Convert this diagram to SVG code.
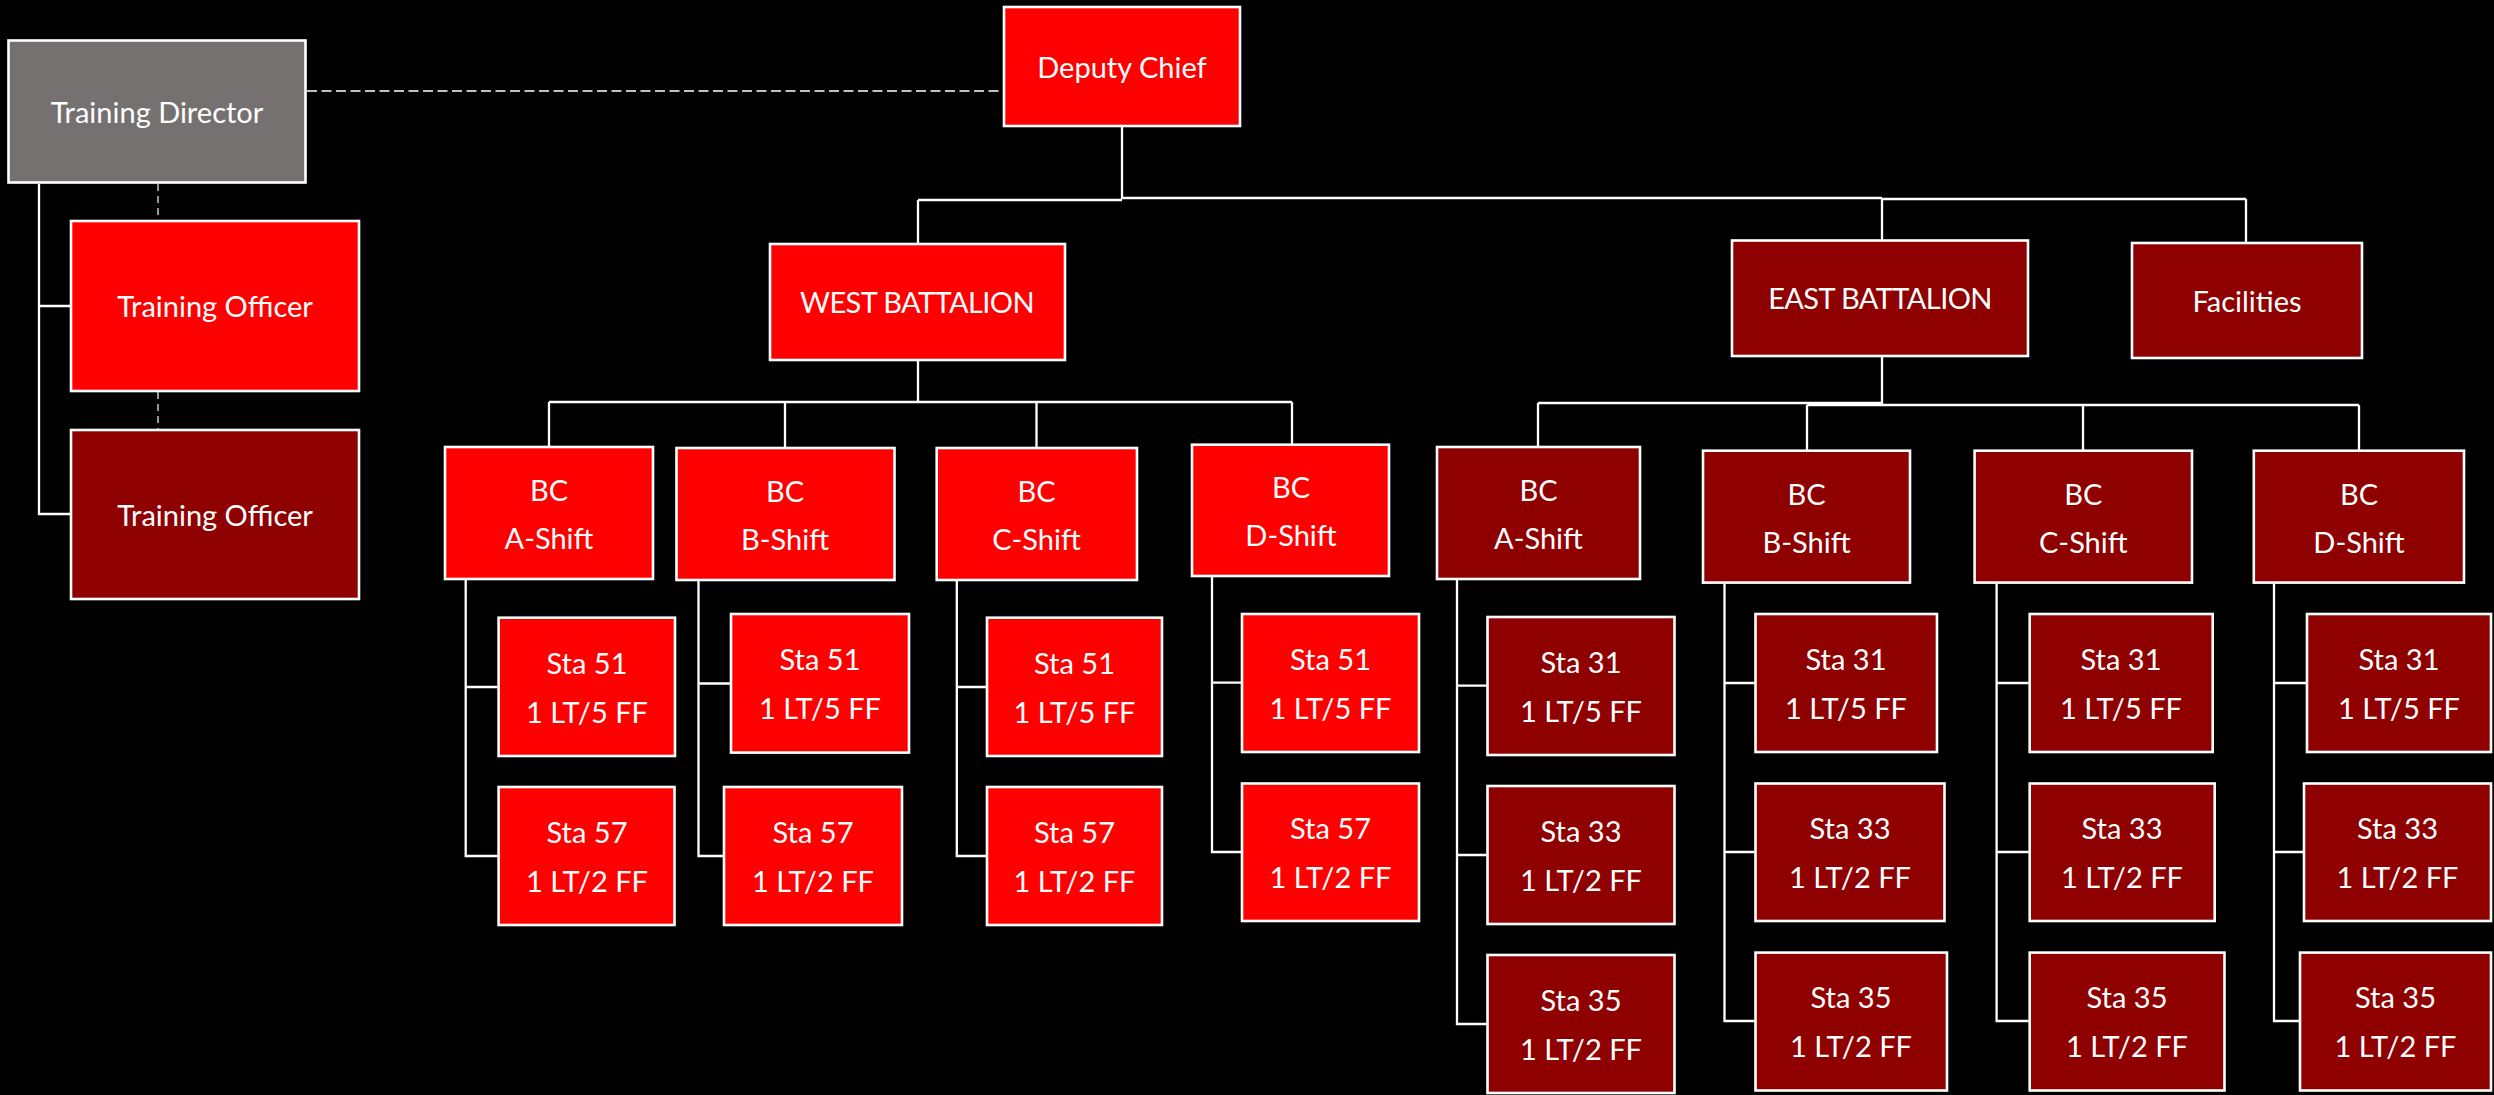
<svg xmlns="http://www.w3.org/2000/svg" width="2494" height="1095" viewBox="0 0 2494 1095">
<style>
.n rect{stroke:#fff;stroke-width:2.6}
.red rect{fill:#ff0000}
.dk rect{fill:#8f0000}
.gy rect{fill:#767171}
text{font-family:Lato,"Liberation Sans",sans-serif;font-size:29px;fill:#fff;text-anchor:middle;dominant-baseline:central}
.cap{letter-spacing:-0.6px}
.c path{fill:none;stroke:#fff;stroke-width:2.3}
.c .d{stroke-dasharray:10 4.5;stroke-width:1.5}
.c .d2{stroke:#c8c8c8;stroke-dasharray:7 5;stroke-width:1.5}
</style>
<rect x="0" y="0" width="2494" height="1095" fill="#000"/>
<g class="c" id="connectors">
<path class="d" d="M307,91 H1003"/>
<path class="d2" d="M158,184 V220 M158,392 V429"/>
<path d="M39,184 V514 H70 M39,306 H70"/>
<path d="M1122,127 V199 M918,200 H1122 M1122,198 H1882 M1882,199 H2246 M918,200 V243 M1882,198 V240 M2246,199 V242"/>
<path d="M918,361 V402 M549,402 H1292 M549,402 V446 M785,402 V447 M1036.5,402 V447 M1292,402 V444"/>
<path d="M1882,357 V405 M1538,403 H1882 M1807,405 H2359 M1538,403 V446 M1807,405 V450 M2083,405 V450 M2359,405 V450"/>
<path d="M465.7,580 V856 H497.6 M465.7,687 H497.6"/>
<path d="M698.5,581 V856 H723 M698.5,683.5 H730"/>
<path d="M956.8,581 V856 H986 M956.8,687 H986"/>
<path d="M1212,577 V852 H1241 M1212,682.6 H1241"/>
<path d="M1457,580 V1024 H1486.5 M1457,685.6 H1486.5 M1457,855 H1486.5"/>
<path d="M1724.5,583.6 V1021 H1754.5 M1724.5,683 H1754.5 M1724.5,852 H1754.5"/>
<path d="M1996.6,583.6 V1021 H2028.7 M1996.6,683 H2028.7 M1996.6,852 H2028.7"/>
<path d="M2274,583.6 V1021 H2299 M2274,683 H2306 M2274,852 H2303"/>
</g>
<g id="training-director" class="n gy"><rect x="8.5" y="40.5" width="297" height="142"/><text x="157" y="111">Training Director</text></g>
<g id="deputy-chief" class="n red"><rect x="1004" y="7" width="236" height="119"/><text x="1122" y="66">Deputy Chief</text></g>
<g id="training-officer-1" class="n red"><rect x="71" y="221" width="288" height="170"/><text x="215" y="305">Training Officer</text></g>
<g id="training-officer-2" class="n dk"><rect x="71" y="430" width="288" height="169"/><text x="215" y="514">Training Officer</text></g>
<g id="west-battalion" class="n red"><rect x="770" y="244" width="295" height="116"/><text class="cap" x="917" y="301">WEST BATTALION</text></g>
<g id="east-battalion" class="n dk"><rect x="1732" y="240.5" width="296" height="115.5"/><text class="cap" x="1880" y="297">EAST BATTALION</text></g>
<g id="facilities" class="n dk"><rect x="2132" y="243" width="230" height="115"/><text x="2247" y="300">Facilities</text></g>

<g id="w-bc-a" class="n red"><rect x="445" y="447" width="208" height="132"/><text x="549" y="489">BC</text><text x="549" y="537">A-Shift</text></g>
<g id="w-bc-b" class="n red"><rect x="676.5" y="448" width="218" height="132"/><text x="785" y="490">BC</text><text x="785" y="538">B-Shift</text></g>
<g id="w-bc-c" class="n red"><rect x="936.7" y="448" width="200.3" height="132"/><text x="1036.5" y="490">BC</text><text x="1036.5" y="538">C-Shift</text></g>
<g id="w-bc-d" class="n red"><rect x="1192" y="444.7" width="197" height="131.3"/><text x="1291" y="486">BC</text><text x="1291" y="534">D-Shift</text></g>

<g id="w-a-51" class="n red"><rect x="498.6" y="617.7" width="176.4" height="138.3"/><text x="587" y="662">Sta 51</text><text x="587" y="711">1 LT/5 FF</text></g>
<g id="w-a-57" class="n red"><rect x="498.6" y="787" width="175.9" height="138"/><text x="587" y="831">Sta 57</text><text x="587" y="880">1 LT/2 FF</text></g>
<g id="w-b-51" class="n red"><rect x="731" y="614" width="178" height="138.6"/><text x="820" y="658">Sta 51</text><text x="820" y="707">1 LT/5 FF</text></g>
<g id="w-b-57" class="n red"><rect x="724" y="787" width="178" height="138"/><text x="813" y="831">Sta 57</text><text x="813" y="880">1 LT/2 FF</text></g>
<g id="w-c-51" class="n red"><rect x="987" y="617.7" width="175" height="138.3"/><text x="1074.5" y="662">Sta 51</text><text x="1074.5" y="711">1 LT/5 FF</text></g>
<g id="w-c-57" class="n red"><rect x="987" y="787" width="175" height="138"/><text x="1074.5" y="831">Sta 57</text><text x="1074.5" y="880">1 LT/2 FF</text></g>
<g id="w-d-51" class="n red"><rect x="1242" y="614" width="177" height="138"/><text x="1330.5" y="658">Sta 51</text><text x="1330.5" y="707">1 LT/5 FF</text></g>
<g id="w-d-57" class="n red"><rect x="1242" y="783.5" width="177" height="137.5"/><text x="1330.5" y="827">Sta 57</text><text x="1330.5" y="876">1 LT/2 FF</text></g>

<g id="e-bc-a" class="n dk"><rect x="1437" y="447" width="203" height="132"/><text x="1538.5" y="489">BC</text><text x="1538.5" y="537">A-Shift</text></g>
<g id="e-bc-b" class="n dk"><rect x="1703" y="450.7" width="207" height="131.9"/><text x="1806.5" y="493">BC</text><text x="1806.5" y="541">B-Shift</text></g>
<g id="e-bc-c" class="n dk"><rect x="1974.6" y="450.7" width="217.4" height="131.9"/><text x="2083.3" y="493">BC</text><text x="2083.3" y="541">C-Shift</text></g>
<g id="e-bc-d" class="n dk"><rect x="2253.8" y="450.7" width="210.2" height="131.9"/><text x="2359" y="493">BC</text><text x="2359" y="541">D-Shift</text></g>

<g id="e-a-31" class="n dk"><rect x="1487.5" y="617" width="187" height="138"/><text x="1581" y="661">Sta 31</text><text x="1581" y="710">1 LT/5 FF</text></g>
<g id="e-a-33" class="n dk"><rect x="1487.5" y="786" width="187" height="138"/><text x="1581" y="830">Sta 33</text><text x="1581" y="879">1 LT/2 FF</text></g>
<g id="e-a-35" class="n dk"><rect x="1487.5" y="955" width="187" height="138"/><text x="1581" y="999">Sta 35</text><text x="1581" y="1048">1 LT/2 FF</text></g>
<g id="e-b-31" class="n dk"><rect x="1755.5" y="614" width="181.5" height="138"/><text x="1846" y="658">Sta 31</text><text x="1846" y="707">1 LT/5 FF</text></g>
<g id="e-b-33" class="n dk"><rect x="1755.5" y="783.5" width="189" height="137.5"/><text x="1850" y="827">Sta 33</text><text x="1850" y="876">1 LT/2 FF</text></g>
<g id="e-b-35" class="n dk"><rect x="1755.5" y="952.6" width="191.5" height="137.9"/><text x="1851" y="996">Sta 35</text><text x="1851" y="1045">1 LT/2 FF</text></g>
<g id="e-c-31" class="n dk"><rect x="2029.7" y="614" width="183" height="138"/><text x="2121" y="658">Sta 31</text><text x="2121" y="707">1 LT/5 FF</text></g>
<g id="e-c-33" class="n dk"><rect x="2029.7" y="783.5" width="185" height="137.5"/><text x="2122" y="827">Sta 33</text><text x="2122" y="876">1 LT/2 FF</text></g>
<g id="e-c-35" class="n dk"><rect x="2029.7" y="952.6" width="194.8" height="137.9"/><text x="2127" y="996">Sta 35</text><text x="2127" y="1045">1 LT/2 FF</text></g>
<g id="e-d-31" class="n dk"><rect x="2307" y="614" width="184" height="138"/><text x="2399" y="658">Sta 31</text><text x="2399" y="707">1 LT/5 FF</text></g>
<g id="e-d-33" class="n dk"><rect x="2304" y="783.5" width="187" height="137.5"/><text x="2397.5" y="827">Sta 33</text><text x="2397.5" y="876">1 LT/2 FF</text></g>
<g id="e-d-35" class="n dk"><rect x="2300" y="952.6" width="191" height="137.9"/><text x="2395.5" y="996">Sta 35</text><text x="2395.5" y="1045">1 LT/2 FF</text></g>
</svg>
